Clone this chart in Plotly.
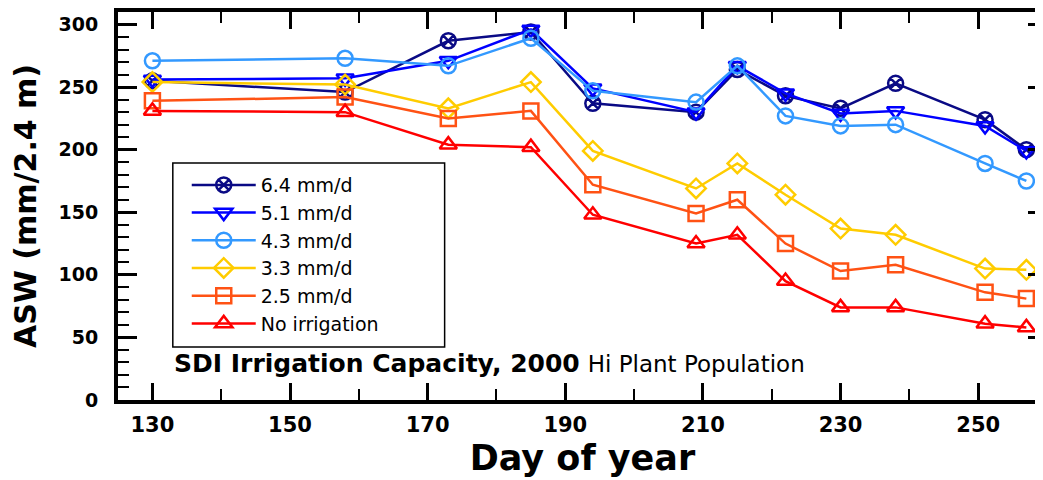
import plotly.graph_objects as go

days = [130, 158, 173, 185, 194, 209, 215, 222, 230, 238, 251, 257]

asw_64 = [255, 246, 287, 294, 237, 230, 264, 243, 233, 253, 224, 200]
asw_51 = [256, 257, 271, 296, 249, 230, 267, 245, 229, 231, 219, 199]
asw_43 = [271, 273, 267, 289, 247, 238, 267, 227, 219, 220, 189, 175]
asw_33 = [254, 252, 233, 254, 199, 169, 189, 164, 137, 132, 105, 104]
asw_25 = [239, 242, 225, 231, 172, 149, 160, 125, 103, 108, 86, 81]
asw_00 = [231, 230, 204, 202, 148, 125, 132, 95, 74, 74, 61, 58]

series_names = ["6.4 mm/d", "5.1 mm/d", "4.3 mm/d", "3.3 mm/d", "2.5 mm/d", "No irrigation"]
series_vals = [asw_64, asw_51, asw_43, asw_33, asw_25, asw_00]
colors = ["#0A0A85", "#0000FF", "#3399FF", "#FFCC00", "#FF5214", "#FF0000"]
symbols = ["circle-x-open", "triangle-down-open", "circle-open", "diamond-open",
           "square-open", "triangle-up-open"]

x_ticks = [130, 150, 170, 190, 210, 230, 250]
y_ticks = [0, 50, 100, 150, 200, 250, 300]

FONT = "DejaVu Sans"

fig = go.Figure()
for name, vals, col, sym in zip(series_names, series_vals, colors, symbols):
    fig.add_trace(go.Scatter(
        x=days, y=vals, name=name, mode="lines+markers",
        line=dict(color=col, width=2.5),
        marker=dict(symbol=sym, size=15, color=col, line=dict(color=col, width=2.5)),
    ))

fig.update_layout(
    width=1043, height=480,
    margin=dict(l=110, r=0, t=4, b=88),
    paper_bgcolor="white", plot_bgcolor="white",
    font=dict(family=FONT, color="black"),
    showlegend=True,
    legend=dict(
        x=0.074, y=0.603, xanchor="left", yanchor="top",
        bgcolor="rgba(0,0,0,0)", borderwidth=0,
        font=dict(family=FONT, size=19, color="black"),
        itemwidth=64, tracegroupgap=0,
    ),
    shapes=[dict(
        type="rect", xref="paper", yref="paper", x0=0.059, x1=0.3516, y0=0.1366, y1=0.6108,
        line=dict(color="black", width=1.5), fillcolor="white", layer="below",
    )],
    xaxis=dict(
        range=[125, 260], tickvals=x_ticks, ticktext=[str(v) for v in x_ticks],
        ticks="inside", ticklen=17, tickwidth=2.5, tickcolor="black",
        minor=dict(dtick=10, tick0=130, ticks="inside", ticklen=11, tickwidth=2, tickcolor="black"),
        showline=True, linewidth=4, linecolor="black", mirror="ticks",
        showgrid=False, zeroline=False,
        tickfont=dict(family=FONT, size=21, color="black", weight="bold"),
        ticklabelstandoff=3,
        title=dict(text="Day of year", standoff=10,
                   font=dict(family=FONT, size=35, color="black", weight="bold")),
    ),
    yaxis=dict(
        range=[0, 310], tickvals=y_ticks, ticktext=[str(v) for v in y_ticks],
        ticks="inside", ticklen=19, tickwidth=2.5, tickcolor="black",
        minor=dict(dtick=10, tick0=0, ticks="inside", ticklen=11, tickwidth=2, tickcolor="black"),
        showline=True, linewidth=4, linecolor="black", mirror="ticks",
        showgrid=False, zeroline=False,
        tickfont=dict(family=FONT, size=19, color="black", weight="bold"),
        ticklabelstandoff=12,
        title=dict(text="ASW (mm/2.4 m)", standoff=14,
                   font=dict(family=FONT, size=30, color="black", weight="bold")),
    ),
    annotations=[dict(
        xref="paper", yref="paper", x=0.058, y=0.0928, xanchor="left", yanchor="middle",
        showarrow=False,
        text="<b>SDI Irrigation Capacity, 2000</b> <span style='font-size:23px'>Hi Plant Population</span>",
        font=dict(family=FONT, size=25, color="black"),
    )],
)

fig.write_html("out.html")
